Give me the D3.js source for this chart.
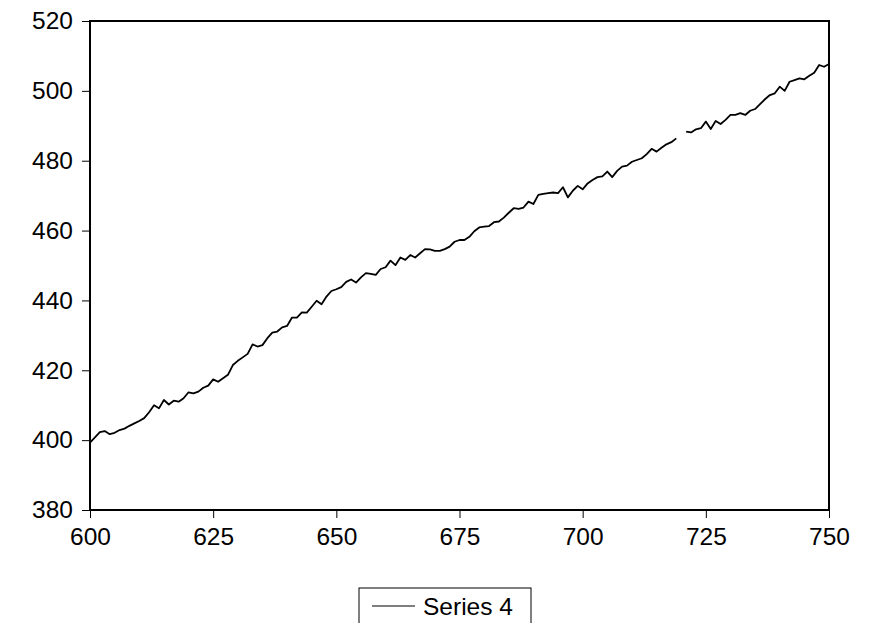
<!DOCTYPE html>
<html>
<head>
<meta charset="utf-8">
<script src="https://cdn.jsdelivr.net/npm/d3@7"></script>
<style>
  html, body { margin: 0; padding: 0; background: #fff; }
  svg { display: block; font-family: "Liberation Sans", Arial, sans-serif; }
</style>
</head>
<body>
<svg id="chart" width="870" height="623"></svg>
<script>
// Observation index runs 600..750; 720 is missing.
const startIndex = 600;
const seriesName = "Series 4";
const series4 = [
  399.3, 400.8, 402.3, 402.6, 401.7, 402.1, 402.9, 403.3, 404.1, 404.8, // 600-609
  405.5, 406.3, 408.0, 410.0, 409.1, 411.5, 410.2, 411.3, 411.0, 412.0, // 610-619
  413.7, 413.4, 413.9, 415.0, 415.6, 417.4, 416.7, 417.7, 418.7, 421.5, // 620-629
  422.7, 423.7, 424.7, 427.4, 426.8, 427.2, 429.2, 430.8, 431.1, 432.3, // 630-639
  432.7, 435.1, 435.1, 436.6, 436.5, 438.2, 439.9, 438.9, 441.1, 442.7, // 640-649
  443.2, 443.8, 445.3, 446.0, 445.1, 446.6, 447.8, 447.6, 447.3, 449.0, // 650-659
  449.5, 451.4, 450.1, 452.3, 451.6, 453.0, 452.3, 453.5, 454.7, 454.6, // 660-669
  454.2, 454.2, 454.7, 455.4, 456.8, 457.3, 457.3, 458.2, 459.8, 460.9, // 670-679
  461.1, 461.3, 462.4, 462.6, 463.7, 465.1, 466.4, 466.2, 466.6, 468.3, // 680-689
  467.6, 470.2, 470.5, 470.7, 470.9, 470.7, 472.4, 469.5, 471.4, 472.8, // 690-699
  471.8, 473.5, 474.5, 475.3, 475.5, 476.9, 475.3, 477.1, 478.3, 478.6, // 700-709
  479.7, 480.2, 480.7, 481.9, 483.4, 482.6, 483.7, 484.7, 485.3, 486.4, // 710-719
  null,  488.3, 488.1, 489.0, 489.3, 491.2, 489.1, 491.4, 490.5, 491.7, // 720-729
  493.1, 493.1, 493.6, 493.1, 494.3, 494.8, 496.2, 497.6, 498.8, 499.3, // 730-739
  501.2, 500.0, 502.6, 503.1, 503.6, 503.3, 504.3, 505.2, 507.4, 506.9, // 740-749
  507.7                                                                  // 750
];
const xTicks = [600, 625, 650, 675, 700, 725, 750];
const yTicks = [380, 400, 420, 440, 460, 480, 500, 520];

const fontSize = 24.5;
const svg = d3.select("#chart");
const plot = { left: 90, right: 829, top: 21, bottom: 510 };

const x = d3.scaleLinear().domain([600, 750]).range([plot.left, plot.right]);
const y = d3.scaleLinear().domain([380, 520]).range([plot.bottom, plot.top]);

const points = series4.map((v, i) => ({ t: startIndex + i, v }));

// Y axis (left), ticks pointing outward
const yAxis = svg.append("g")
  .attr("transform", `translate(${plot.left},0)`)
  .call(d3.axisLeft(y).tickValues(yTicks).tickSize(8).tickPadding(9).tickFormat(d3.format("d")));
yAxis.select(".domain").remove();
yAxis.selectAll("line").attr("stroke", "#000");
yAxis.selectAll("text").attr("font-size", fontSize).attr("fill", "#000")
  .attr("font-family", "'Liberation Sans', Arial, sans-serif");

// X axis (bottom), ticks pointing outward
const xAxis = svg.append("g")
  .attr("transform", `translate(0,${plot.bottom})`)
  .call(d3.axisBottom(x).tickValues(xTicks).tickSize(8).tickPadding(10).tickFormat(d3.format("d")));
xAxis.select(".domain").remove();
xAxis.selectAll("line").attr("stroke", "#000");
xAxis.selectAll("text").attr("font-size", fontSize).attr("fill", "#000")
  .attr("font-family", "'Liberation Sans', Arial, sans-serif");

// Series line, broken where values are missing
const line = d3.line()
  .defined(d => d.v !== null)
  .x(d => x(d.t))
  .y(d => y(d.v));

svg.append("path")
  .datum(points)
  .attr("fill", "none")
  .attr("stroke", "#000")
  .attr("stroke-width", 1.8)
  .attr("stroke-linejoin", "round")
  .attr("d", line);

// Plot frame
svg.append("rect")
  .attr("x", plot.left).attr("y", plot.top)
  .attr("width", plot.right - plot.left)
  .attr("height", plot.bottom - plot.top)
  .attr("fill", "none")
  .attr("stroke", "#000")
  .attr("stroke-width", 2);

// Legend
const legend = svg.append("g").attr("transform", "translate(359,588)");
legend.append("rect")
  .attr("x", 0).attr("y", 0).attr("width", 172).attr("height", 50)
  .attr("fill", "#fff").attr("stroke", "#000").attr("stroke-width", 1);
legend.append("line")
  .attr("x1", 13).attr("x2", 56).attr("y1", 18).attr("y2", 18)
  .attr("stroke", "#000").attr("stroke-width", 1.2);
legend.append("text")
  .attr("x", 64).attr("y", 27)
  .attr("font-size", fontSize).attr("fill", "#000")
  .text(seriesName);
</script>
</body>
</html>
